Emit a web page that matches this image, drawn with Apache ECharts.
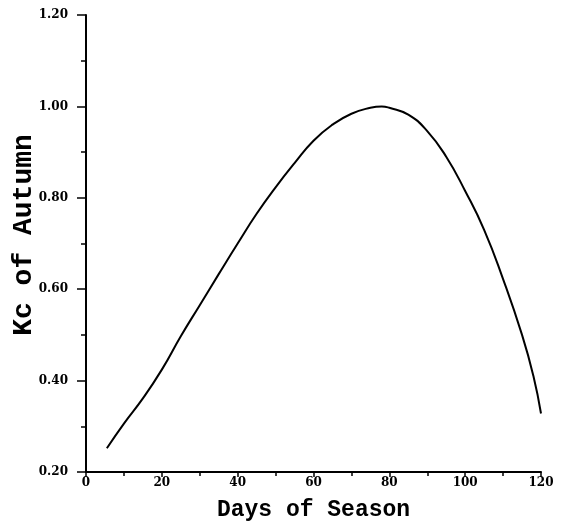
<!DOCTYPE html>
<html>
<head>
<meta charset="utf-8">
<script src="https://cdn.jsdelivr.net/npm/echarts@6/dist/echarts.min.js"></script>
<style>html,body{margin:0;padding:0;background:#fff}#c{width:562px;height:521px}</style>
</head>
<body>
<div id="c"></div>
<script>
const days = [5.5, 10, 15, 20, 25, 30, 35, 40, 45, 50, 55, 60, 65, 70, 75, 78, 80, 85, 90, 95, 100, 105, 110, 115, 118, 120];
const kc = [0.252, 0.306, 0.361, 0.424, 0.497, 0.565, 0.633, 0.700, 0.765, 0.823, 0.876, 0.925, 0.960, 0.984, 0.997, 1.000, 0.997, 0.982, 0.946, 0.890, 0.815, 0.730, 0.622, 0.500, 0.410, 0.328];
const xTitle = 'Days of Season';
const yTitle = 'Kc of Autumn';

const chart = echarts.init(document.getElementById('c'), null, {renderer: 'canvas'});
const labelStyle = {color: '#000', fontFamily: 'DejaVu Serif', fontWeight: 'bold', fontSize: 12};
const nameStyle = {color: '#000', fontFamily: 'Liberation Mono', fontWeight: 'bold'};
chart.setOption({
  animation: false,
  backgroundColor: '#fff',
  grid: {left: 86, right: 21, top: 15, bottom: 49, containLabel: false, outerBoundsMode: 'none'},
  xAxis: {
    type: 'value', min: 0, max: 120, interval: 20,
    name: xTitle, nameLocation: 'middle', nameGap: 27, nameMoveOverlap: false,
    nameTextStyle: Object.assign({}, nameStyle, {fontSize: 23}),
    axisLine: {show: true, lineStyle: {color: '#000', width: 2}},
    axisTick: {show: true, length: 5, lineStyle: {color: '#000', width: 1.5}},
    minorTick: {show: true, splitNumber: 2, length: 4, lineStyle: {color: '#000', width: 1.5}},
    splitLine: {show: false},
    axisLabel: Object.assign({}, labelStyle, {margin: 5})
  },
  yAxis: {
    type: 'value', min: 0.2, max: 1.2, interval: 0.2,
    name: yTitle, nameLocation: 'middle', nameGap: 48, nameRotate: 90, nameMoveOverlap: false,
    nameTextStyle: Object.assign({}, nameStyle, {fontSize: 28, padding: [0, 0, 0, 17]}),
    axisLine: {show: true, lineStyle: {color: '#000', width: 2}},
    axisTick: {show: true, length: 9, lineStyle: {color: '#000', width: 1.5}},
    minorTick: {show: true, splitNumber: 2, length: 5, lineStyle: {color: '#000', width: 1.5}},
    splitLine: {show: false},
    axisLabel: Object.assign({}, labelStyle, {margin: 18, formatter: v => v.toFixed(2)})
  },
  series: [{
    type: 'line',
    data: days.map((d, i) => [d, kc[i]]),
    smooth: true,
    showSymbol: false,
    lineStyle: {color: '#000', width: 2}
  }]
});
</script>
</body>
</html>
